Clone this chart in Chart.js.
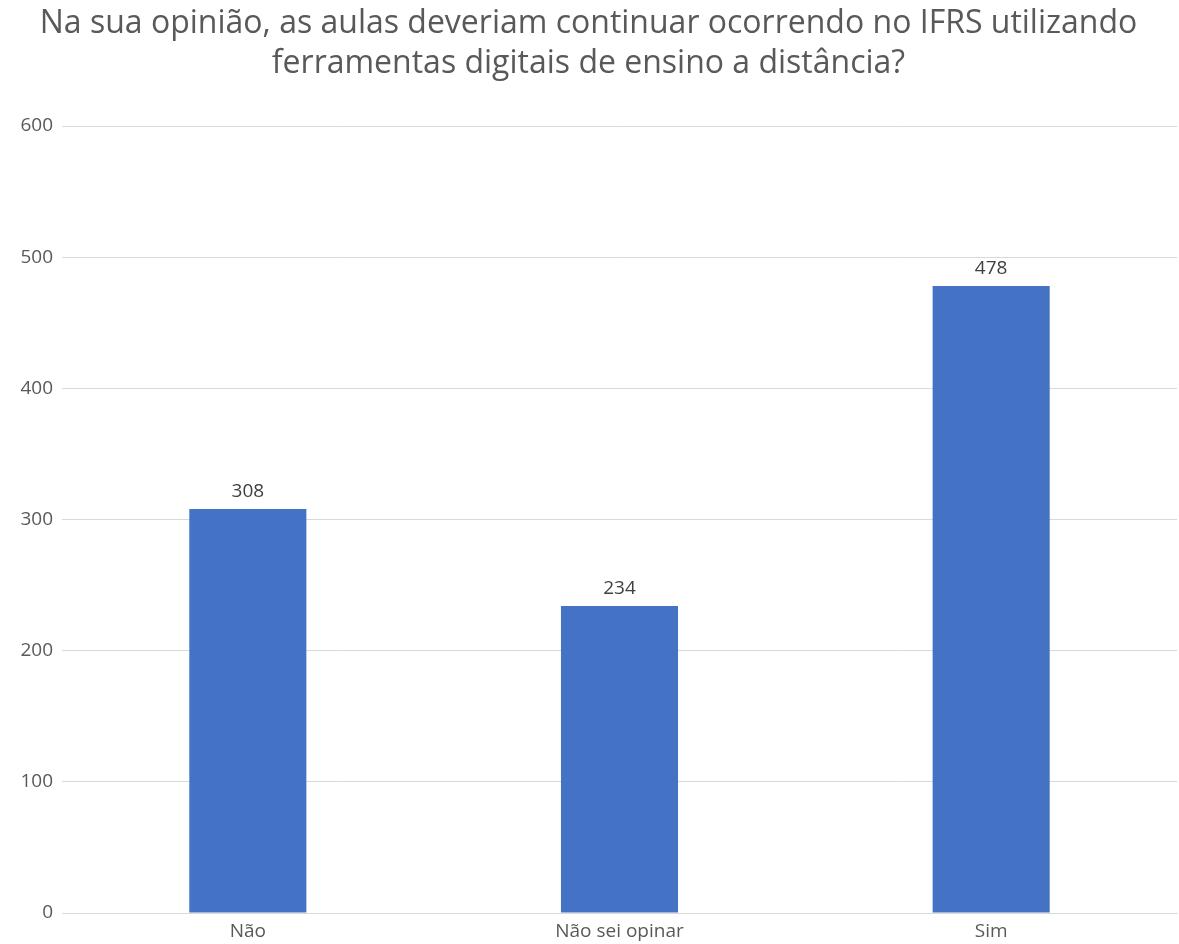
<!DOCTYPE html>
<html>
<head>
<meta charset="utf-8">
<script src="https://cdn.jsdelivr.net/npm/chart.js@4/dist/chart.umd.min.js"></script>
<style>
  html, body { margin: 0; padding: 0; background: #fff; }
  #wrap { width: 1179px; height: 944px; }
</style>
</head>
<body>
<div id="wrap"><canvas id="chartOpiniao"></canvas></div>
<script>
const categories = ['Não', 'Não sei opinar', 'Sim'];
const respostas = [308, 234, 478];
const titleLines = [
  'Na sua opinião, as aulas deveriam continuar ocorrendo no IFRS utilizando',
  'ferramentas digitais de ensino a distância?',
];

const FONT = "'Open Sans', 'Noto Sans', sans-serif";

// writes the count just above each bar
const valueLabels = {
  id: 'valueLabels',
  afterDatasetsDraw(chart) {
    const { ctx } = chart;
    const meta = chart.getDatasetMeta(0);
    ctx.save();
    ctx.font = `19px ${FONT}`;
    ctx.fillStyle = '#404040';
    ctx.textAlign = 'center';
    ctx.textBaseline = 'alphabetic';
    meta.data.forEach((bar, i) => {
      ctx.fillText(String(respostas[i]), bar.x, bar.y - 12);
    });
    ctx.restore();
  },
};

new Chart(document.querySelector('#chartOpiniao'), {
  type: 'bar',
  data: {
    labels: categories,
    datasets: [
      {
        data: respostas,
        backgroundColor: '#4472C4',
        barPercentage: 0.315,
        categoryPercentage: 1,
      },
    ],
  },
  options: {
    responsive: true,
    maintainAspectRatio: false,
    animation: false,
    layout: { padding: { top: 4, right: 2, left: 0, bottom: 0 } },
    plugins: {
      legend: { display: false },
      tooltip: { enabled: false },
      title: {
        display: true,
        text: titleLines,
        color: '#595959',
        font: { family: FONT, size: 32, weight: 'normal', lineHeight: 1.25 },
        padding: { top: 0, bottom: 42 },
      },
    },
    scales: {
      x: {
        grid: { display: false, drawTicks: false },
        border: { color: '#d9d9d9' },
        ticks: {
          color: '#595959',
          font: { family: FONT, size: 19 },
          padding: 7,
        },
        afterFit: (scale) => {
          scale.height = 31;
        },
      },
      y: {
        min: 0,
        max: 600,
        ticks: {
          stepSize: 100,
          color: '#595959',
          font: { family: FONT, size: 19 },
          padding: 9,
        },
        grid: { color: '#d9d9d9', drawTicks: false },
        border: { display: false },
        afterFit: (scale) => {
          scale.width = 62;
        },
      },
    },
  },
  plugins: [valueLabels],
});
</script>
</body>
</html>
